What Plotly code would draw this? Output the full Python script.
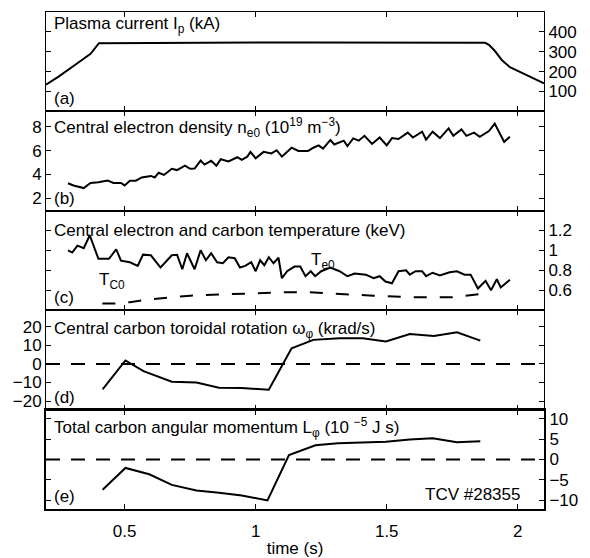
import plotly.graph_objects as go

# ---------------- data ----------------
ip_t = [0.2, 0.248, 0.325, 0.37, 0.402, 0.45, 0.6, 0.8, 1.0, 1.2, 1.4, 1.6, 1.8, 1.875, 1.89, 1.912, 1.94, 1.97, 2.03, 2.1]
ip_v = [135, 175, 247, 290, 343, 343, 343, 344, 346, 347, 347, 347, 347, 345, 335, 305, 257, 222, 185, 141]

ne_t = [0.284, 0.305, 0.344, 0.37, 0.40, 0.435, 0.457, 0.486, 0.50, 0.52, 0.543, 0.565, 0.60, 0.615,
        0.63, 0.65, 0.68, 0.70, 0.73, 0.75, 0.767, 0.79, 0.805, 0.83, 0.85, 0.867, 0.896, 0.93, 0.947,
        0.968, 0.98, 1.0, 1.03, 1.06, 1.08, 1.10, 1.137, 1.163, 1.20, 1.22, 1.24, 1.257, 1.285, 1.30,
        1.336, 1.35, 1.372, 1.393, 1.415, 1.444, 1.473, 1.50, 1.52, 1.545, 1.58, 1.60, 1.635, 1.65,
        1.675, 1.703, 1.736, 1.754, 1.785, 1.804, 1.833, 1.855, 1.89, 1.912, 1.948, 1.97]
ne_v = [3.26, 3.08, 2.86, 3.29, 3.35, 3.5, 3.29, 3.29, 3.08, 3.48, 3.48, 3.75, 3.88, 3.75,
        4.15, 3.96, 4.48, 4.37, 4.74, 4.48, 4.5, 5.17, 4.83, 5.15, 4.74, 5.28, 5.1, 5.45, 5.23,
        5.5, 5.9, 5.36, 5.9, 5.77, 6.04, 5.5, 6.25, 5.98, 5.98, 6.25, 6.44, 6.17, 6.9, 6.52,
        6.84, 6.39, 7.03, 6.84, 7.25, 6.57, 7.11, 6.44, 7.06, 6.98, 7.52, 7.11, 7.6, 6.92,
        7.6, 7.06, 7.87, 7.25, 7.78, 7.25, 7.52, 7.17, 7.65, 8.27, 6.74, 7.17]

te_t = [0.284, 0.30, 0.32, 0.344, 0.367, 0.40, 0.44, 0.468, 0.486, 0.52, 0.55, 0.57, 0.60, 0.637,
        0.68, 0.70, 0.72, 0.738, 0.767, 0.79, 0.81, 0.83, 0.853, 0.875, 0.896, 0.92, 0.94, 0.96,
        0.983, 1.0, 1.017, 1.033, 1.05, 1.068, 1.087, 1.10, 1.12, 1.148, 1.17, 1.19, 1.21, 1.227,
        1.25, 1.285, 1.32, 1.35, 1.378, 1.42, 1.45, 1.473, 1.495, 1.52, 1.545, 1.574, 1.588, 1.61,
        1.635, 1.65, 1.675, 1.703, 1.74, 1.768, 1.797, 1.82, 1.848, 1.877, 1.898, 1.92, 1.935, 1.97]
te_v = [1.0, 0.977, 1.046, 1.02, 1.15, 0.914, 0.914, 1.01, 0.896, 0.88, 0.844, 0.956, 0.95, 0.827,
        0.95, 0.955, 0.81, 0.97, 0.81, 1.0, 0.9, 0.97, 0.88, 0.87, 0.93, 0.92, 0.827, 0.844,
        0.88, 0.79, 0.9, 0.85, 0.93, 0.87, 0.925, 0.72, 0.79, 0.837, 0.837, 0.74, 0.79, 0.74,
        0.79, 0.827, 0.79, 0.74, 0.767, 0.756, 0.72, 0.74, 0.687, 0.67, 0.79, 0.8, 0.756, 0.79,
        0.79, 0.74, 0.775, 0.747, 0.78, 0.79, 0.756, 0.756, 0.617, 0.694, 0.6, 0.71, 0.628, 0.704]

tc_t = [0.415, 0.465, 0.52, 0.60, 0.75, 0.95, 1.10, 1.20, 1.30, 1.45, 1.60, 1.75, 1.85]
tc_v = [0.467, 0.467, 0.48, 0.51, 0.545, 0.565, 0.58, 0.58, 0.565, 0.545, 0.53, 0.53, 0.56]

om_t = [0.416, 0.503, 0.572, 0.68, 0.774, 0.86, 0.947, 1.05, 1.137, 1.22, 1.32, 1.408, 1.497, 1.588, 1.68, 1.768, 1.857]
om_v = [-13.7, 1.9, -3.9, -9.6, -10.0, -12.8, -13.0, -13.9, 8.5, 13.0, 13.9, 13.9, 12.1, 16.2, 15.1, 17.1, 12.6]

lm_t = [0.416, 0.503, 0.594, 0.68, 0.774, 0.86, 0.947, 1.045, 1.127, 1.228, 1.314, 1.408, 1.497, 1.588, 1.675, 1.768, 1.857]
lm_v = [-7.4, -2.06, -3.6, -6.2, -7.6, -8.1, -8.8, -10.0, 1.07, 3.5, 3.95, 4.1, 4.36, 4.9, 5.2, 4.2, 4.44]

x_range = [0.2, 2.1]
x_ticks = [0.5, 1, 1.5, 2]
x_ticktext = ["0.5", "1", "1.5", "2"]

ya_ticks = [100, 200, 300, 400]
yb_ticks = [2, 4, 6, 8]
yc_ticks = [0.6, 0.8, 1.0, 1.2]
yc_ticktext = ["0.6", "0.8", "1", "1.2"]
yd_ticks = [-20, -10, 0, 10, 20]
ye_ticks = [-10, -5, 0, 5, 10]

titles = [
    "Plasma current I<sub>p</sub> (kA)",
    "Central electron density n<sub>e0</sub> (10<sup>19</sup> m<sup>−3</sup>)",
    "Central electron and carbon temperature (keV)",
    "Central carbon toroidal rotation ω<sub>φ</sub> (krad/s)",
    "Total carbon angular momentum L<sub>φ</sub> (10 <sup>−5</sup> J s)",
]
panel_labels = ["(a)", "(b)", "(c)", "(d)", "(e)"]

# ---------------- figure ----------------
FONT = "Liberation Sans, Arial, sans-serif"
FS = 17
fig = go.Figure()
line = dict(color="black", width=2)
zdash = dict(color="black", width=2, dash="14px,11px")

fig.add_trace(go.Scatter(x=ip_t, y=ip_v, mode="lines", line=line, xaxis="x", yaxis="y"))
fig.add_trace(go.Scatter(x=ne_t, y=ne_v, mode="lines", line=line, xaxis="x2", yaxis="y2"))
fig.add_trace(go.Scatter(x=te_t, y=te_v, mode="lines", line=line, xaxis="x3", yaxis="y3"))
fig.add_trace(go.Scatter(x=tc_t, y=tc_v, mode="lines", line=dict(color="black", width=2, dash="13px,13px"),
                         xaxis="x3", yaxis="y3"))
fig.add_trace(go.Scatter(x=x_range, y=[0, 0], mode="lines", line=zdash, xaxis="x4", yaxis="y4"))
fig.add_trace(go.Scatter(x=om_t, y=om_v, mode="lines", line=line, xaxis="x4", yaxis="y4"))
fig.add_trace(go.Scatter(x=x_range, y=[0, 0], mode="lines", line=zdash, xaxis="x5", yaxis="y5"))
fig.add_trace(go.Scatter(x=lm_t, y=lm_v, mode="lines", line=line, xaxis="x5", yaxis="y5"))

n = 5
domains = [[0.8, 1.0], [0.6, 0.8], [0.4, 0.6], [0.2, 0.4], [0.0, 0.2]]
yranges = [[0, 500], [0.95, 9.3], [0.4, 1.395], [-24.6, 29], [-12.1, 12.2]]
yticks = [ya_ticks, yb_ticks, yc_ticks, yd_ticks, ye_ticks]
ytexts = [None, None, yc_ticktext, None, None]
sides = ["right", "left", "right", "left", "right"]
title_y = [0.865, 0.833, 0.80, 0.80, 0.82]

layout = dict(
    width=590, height=558,
    margin=dict(l=46, r=46, t=12, b=49),
    paper_bgcolor="white", plot_bgcolor="white",
    showlegend=False,
    font=dict(family=FONT, size=FS, color="black"),
)
annotations = []
for i in range(n):
    suf = "" if i == 0 else str(i + 1)
    lw = 2 if i == 4 else 1
    xa = dict(
        domain=[0, 1], range=x_range, anchor="y" + suf, automargin=False,
        showline=True, linecolor="black", linewidth=lw, mirror="ticks",
        ticks="inside", ticklen=5, tickcolor="black", tickwidth=1,
        tickvals=x_ticks, ticktext=x_ticktext,
        showticklabels=(i == 4), showgrid=False, zeroline=False,
        tickfont=dict(size=FS),
    )
    if i == 4:
        xa["title"] = dict(text="time (s)", font=dict(size=FS), standoff=6)
        xa["ticklabelstandoff"] = 6
    ya = dict(
        domain=domains[i], range=yranges[i], anchor="x" + suf, automargin=False,
        showline=True, linecolor="black", linewidth=lw, mirror="ticks",
        ticks="inside", ticklen=5, tickcolor="black", tickwidth=1,
        tickvals=yticks[i], side=sides[i],
        showgrid=False, zeroline=False, tickfont=dict(size=FS),
    )
    if ytexts[i] is not None:
        ya["ticktext"] = ytexts[i]
    layout["xaxis" + suf] = xa
    layout["yaxis" + suf] = ya

    annotations.append(dict(
        text=titles[i], xref="x" + suf + " domain", yref="y" + suf + " domain",
        x=0.013, y=title_y[i], xanchor="left", yanchor="middle", showarrow=False,
        font=dict(size=FS, family=FONT), align="left",
    ))
    annotations.append(dict(
        text=panel_labels[i], xref="x" + suf + " domain", yref="y" + suf + " domain",
        x=0.013, y=0.126, xanchor="left", yanchor="middle", showarrow=False,
        font=dict(size=FS, family=FONT),
    ))

annotations.append(dict(text="T<sub>e0</sub>", xref="x3", yref="y3", x=1.205, y=0.89,
                        xanchor="left", yanchor="middle", showarrow=False, font=dict(size=FS)))
annotations.append(dict(text="T<sub>C0</sub>", xref="x3", yref="y3", x=0.395, y=0.69,
                        xanchor="left", yanchor="middle", showarrow=False, font=dict(size=FS)))
annotations.append(dict(text="TCV #28355", xref="x5", yref="y5", x=2.015, y=-8.6,
                        xanchor="right", yanchor="middle", showarrow=False, font=dict(size=FS)))
layout["annotations"] = annotations

fig.update_layout(**layout)
fig.write_html("out.html")
